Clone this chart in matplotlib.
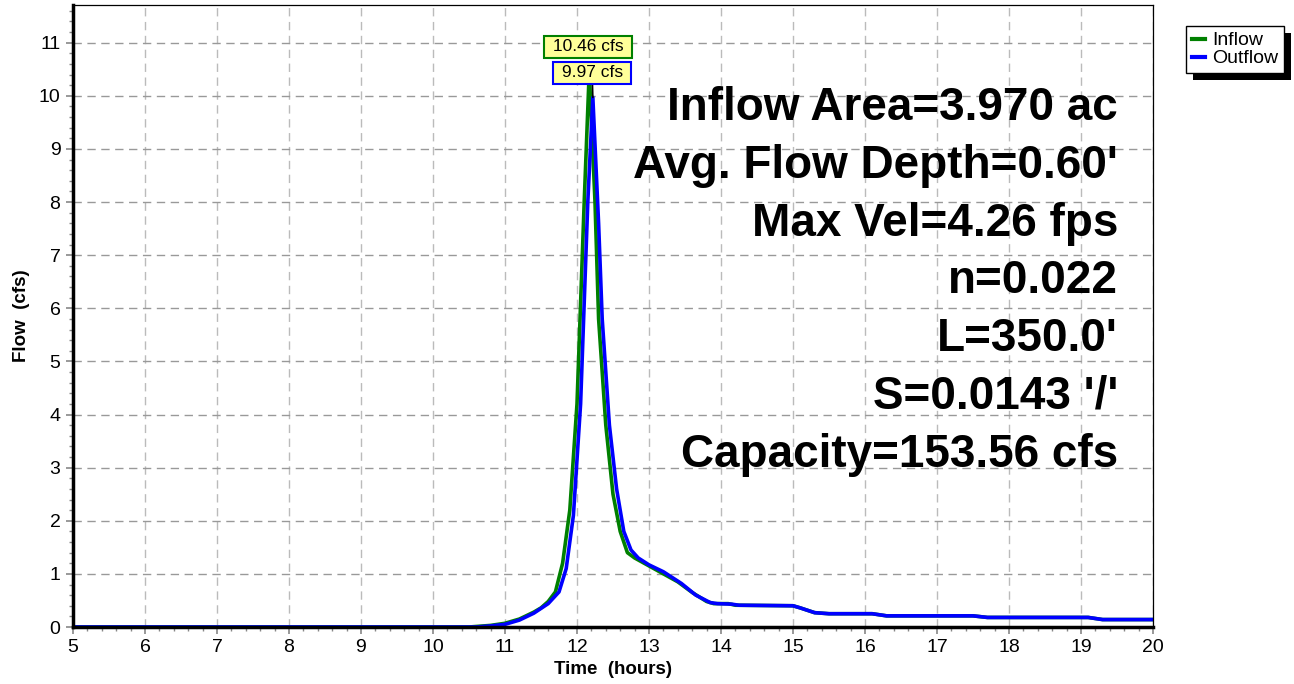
import numpy as np
import matplotlib.pyplot as plt
import matplotlib.patheffects as pe
from matplotlib.ticker import MultipleLocator

plt.rcParams['font.family'] = ['Liberation Sans', 'DejaVu Sans']

# hydrograph values (hours, cfs)
inflow_t = [5.0, 10.5, 10.6, 10.8, 11.0, 11.2, 11.4, 11.5, 11.6, 11.7, 11.8, 11.9, 12.0,
            12.1, 12.17, 12.25, 12.3, 12.4, 12.5, 12.6, 12.7, 12.8, 13.0, 13.2, 13.4,
            13.6, 13.8, 13.9, 14.1, 14.2, 15.0, 15.1, 15.3, 15.5, 16.1, 16.3, 17.5,
            17.7, 19.1, 19.3, 20.0]
inflow_q = [0.0, 0.0, 0.01, 0.03, 0.07, 0.15, 0.28, 0.36, 0.48, 0.66, 1.2, 2.2, 4.2,
            8.0, 10.46, 8.0, 5.8, 3.8, 2.5, 1.8, 1.4, 1.3, 1.15, 1.0, 0.85,
            0.65, 0.48, 0.44, 0.44, 0.41, 0.40, 0.36, 0.27, 0.25, 0.25, 0.21, 0.21,
            0.18, 0.18, 0.14, 0.14]

outflow_t = [5.0, 10.6, 10.8, 11.0, 11.2, 11.4, 11.6, 11.75, 11.85, 11.95, 12.05, 12.15,
             12.22, 12.3, 12.35, 12.45, 12.55, 12.65, 12.75, 12.85, 13.0, 13.2, 13.45,
             13.65, 13.85, 13.95, 14.15, 14.25, 15.0, 15.1, 15.3, 15.5, 16.1, 16.3,
             17.5, 17.7, 19.1, 19.3, 20.0]
outflow_q = [0.0, 0.0, 0.02, 0.05, 0.13, 0.26, 0.44, 0.66, 1.1, 2.1, 4.2, 8.0,
             9.97, 7.6, 5.8, 3.8, 2.6, 1.8, 1.45, 1.3, 1.17, 1.04, 0.82,
             0.6, 0.46, 0.44, 0.43, 0.41, 0.40, 0.36, 0.27, 0.25, 0.25, 0.21,
             0.21, 0.18, 0.18, 0.14, 0.14]

info_lines = ["Inflow Area=3.970 ac", "Avg. Flow Depth=0.60'", "Max Vel=4.26 fps",
              "n=0.022", "L=350.0'", "S=0.0143 '/'", "Capacity=153.56 cfs"]

fig = plt.figure(figsize=(12.94, 6.84), dpi=100)
ax = fig.add_axes([73/1294, 57/684, 1080/1294, 622/684])

ax.plot(inflow_t, inflow_q, color='#008000', lw=2.6, label='Inflow', solid_joinstyle='round')
ax.plot(outflow_t, outflow_q, color='#0000ff', lw=2.6, label='Outflow', solid_joinstyle='round')

ax.set_xlim(5, 20)
ax.set_ylim(0, 11.71)
ax.xaxis.set_major_locator(MultipleLocator(1))
ax.xaxis.set_minor_locator(MultipleLocator(0.2))
ax.yaxis.set_major_locator(MultipleLocator(1))
ax.yaxis.set_minor_locator(MultipleLocator(0.2))
ax.tick_params(which='both', direction='out', color='#888888', labelsize=14)
ax.tick_params(which='major', length=5, width=1.2, pad=4)
ax.tick_params(which='minor', length=3, width=1)
ax.grid(which='major', axis='y', color='#999999', linestyle=(0, (6, 4)), lw=1)
ax.grid(which='major', axis='x', color='#bbbbbb', linestyle=(0, (6, 4)), lw=1)

ax.spines['left'].set_linewidth(2.5)
ax.spines['bottom'].set_linewidth(2.5)
ax.spines['top'].set_linewidth(0.9)
ax.spines['right'].set_linewidth(0.9)

ax.set_xlabel('Time  (hours)', fontsize=13.5, fontweight='bold', labelpad=3)
ax.set_ylabel('Flow  (cfs)', fontsize=13.5, fontweight='bold', labelpad=6)

# peak labels
i_in = int(np.argmax(inflow_q))
i_out = int(np.argmax(outflow_q))
ax.annotate(' %.2f cfs ' % inflow_q[i_in], xy=(inflow_t[i_in], inflow_q[i_in]),
            xytext=(12.15, 10.92), ha='center', va='center', fontsize=12.5,
            bbox=dict(boxstyle='square,pad=0.2', fc='#ffff99', ec='#008000', lw=1.5))
ax.annotate(' %.2f cfs ' % outflow_q[i_out], xy=(outflow_t[i_out], outflow_q[i_out]),
            xytext=(12.21, 10.43), ha='center', va='center', fontsize=12.5,
            arrowprops=dict(arrowstyle='-', color='black', lw=1.2, shrinkA=0, shrinkB=0),
            bbox=dict(boxstyle='square,pad=0.2', fc='#ffff99', ec='#0000ff', lw=1.5))

# info block
for k, line in enumerate(info_lines):
    fig.text(1118/1294, 1 - (108 + k*57.8)/684, line, ha='right', va='center',
             fontsize=33, fontweight='bold')

leg = fig.legend(loc='upper left', bbox_to_anchor=(1186/1294, 1 - 26/684), fontsize=14,
                 frameon=True, fancybox=False, edgecolor='black', framealpha=1,
                 handlelength=0.7, handletextpad=0.35,
                 borderpad=0.3, labelspacing=0.02, borderaxespad=0)
leg.get_frame().set_linewidth(1)
leg.get_frame().set_path_effects([pe.SimplePatchShadow(offset=(5, -5), shadow_rgbFace='black', alpha=1),
                                  pe.Normal()])
for h in leg.legend_handles:
    h.set_linewidth(3)

fig.savefig('out.png', dpi=100)
